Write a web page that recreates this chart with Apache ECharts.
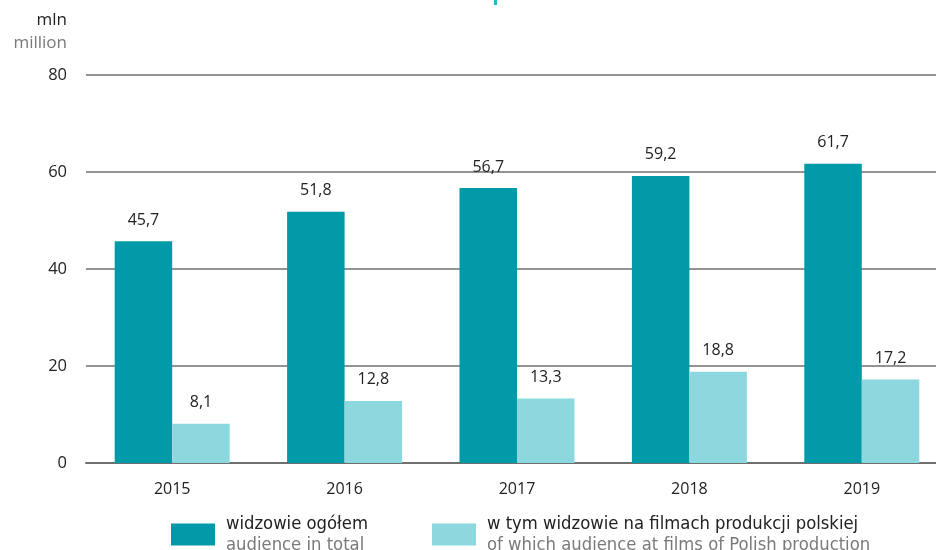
<!DOCTYPE html>
<html>
<head>
<meta charset="utf-8">
<script src="https://cdn.jsdelivr.net/npm/echarts@6/dist/echarts.min.js"></script>
<style>
  html, body { margin: 0; padding: 0; background: #fff; overflow: hidden; }
  #chart { width: 948px; height: 550px; }
</style>
</head>
<body>
<div id="chart"></div>
<script>
// Cinema audience, 2015–2019 (million)
const years = ['2015', '2016', '2017', '2018', '2019'];
const audienceTotal = [45.7, 51.8, 56.7, 59.2, 61.7];
const audiencePolish = [8.1, 12.8, 13.3, 18.8, 17.2];
const yTicks = [0, 20, 40, 60, 80];

const seriesNames = [
  ['widzowie ogółem', 'audience in total'],
  ['w tym widzowie na filmach produkcji polskiej', 'of which audience at films of Polish production']
];

const DARK = '#009aa8';
const LIGHT = '#8dd8de';
const TEXT = '#222222';
const GREY = '#7a7a7a';
const LINE = '#6f6f6f';
const BASE_FONT = '"Open Sans", "Noto Sans", sans-serif';
const NARROW_FONT = '"Liberation Sans Narrow", "DejaVu Sans Condensed", "Roboto", sans-serif';

const fmt = v => String(v).replace('.', ',');

const chart = echarts.init(document.getElementById('chart'), null, { renderer: 'canvas' });

function legendFor(index, left) {
  return {
    data: [seriesNames[index][0]],
    left: left,
    top: 515,
    padding: 0,
    orient: 'horizontal',
    itemWidth: 44,
    itemHeight: 22,
    itemGap: 0,
    selectedMode: false,
    icon: 'rect',
    formatter: () => '{a|' + seriesNames[index][0] + '}\n{b|' + seriesNames[index][1] + '}',
    textStyle: {
      fontFamily: NARROW_FONT,
      padding: [0, 0, 0, 6],
      rich: {
        a: { fontSize: 18.3, color: TEXT, fontFamily: NARROW_FONT, lineHeight: 21 },
        b: { fontSize: 18.3, color: GREY, fontFamily: NARROW_FONT, lineHeight: 21 }
      }
    }
  };
}

chart.setOption({
  animation: false,
  textStyle: { fontFamily: BASE_FONT },
  // the plot runs slightly past the visible right edge of the page
  grid: { left: 86, top: 75, right: 0, bottom: 87, containLabel: false },
  legend: [legendFor(0, 171), legendFor(1, 432)],
  xAxis: {
    type: 'category',
    data: years,
    boundaryGap: true,
    axisLine: { show: true, lineStyle: { color: LINE, width: 2 } },
    axisTick: { show: false },
    axisLabel: { color: TEXT, fontSize: 16, margin: 18, fontFamily: BASE_FONT }
  },
  yAxis: {
    type: 'value',
    min: yTicks[0],
    max: yTicks[yTicks.length - 1],
    interval: yTicks[1] - yTicks[0],
    name: '{a|mln}\n{b|million}',
    nameLocation: 'end',
    nameGap: 20,
    nameTextStyle: {
      align: 'right',
      verticalAlign: 'bottom',
      padding: [0, 19, 0, 0],
      rich: {
        a: { fontSize: 17, color: TEXT, fontFamily: BASE_FONT, lineHeight: 23, align: 'right' },
        b: { fontSize: 17, color: GREY, fontFamily: BASE_FONT, lineHeight: 23, align: 'right' }
      }
    },
    axisLine: { show: false },
    axisTick: { show: false },
    axisLabel: { color: TEXT, fontSize: 16.5, margin: 19, fontFamily: BASE_FONT },
    splitLine: { show: true, lineStyle: { color: LINE, width: 1.5 } }
  },
  series: [
    {
      name: seriesNames[0][0],
      type: 'bar',
      data: audienceTotal,
      barWidth: 57.5,
      barGap: '0%',
      itemStyle: { color: DARK },
      label: {
        show: true, position: 'top', distance: 13,
        color: TEXT, fontSize: 16, fontFamily: BASE_FONT,
        formatter: p => fmt(p.value)
      }
    },
    {
      name: seriesNames[1][0],
      type: 'bar',
      data: audiencePolish,
      barWidth: 57.5,
      barGap: '0%',
      itemStyle: { color: LIGHT },
      label: {
        show: true, position: 'top', distance: 13,
        color: TEXT, fontSize: 16, fontFamily: BASE_FONT,
        formatter: p => fmt(p.value)
      }
    }
  ],
  graphic: [
    { type: 'rect', left: 494, top: 0, shape: { width: 3, height: 5 }, style: { fill: '#22bcc8' }, silent: true }
  ]
});
</script>
</body>
</html>
